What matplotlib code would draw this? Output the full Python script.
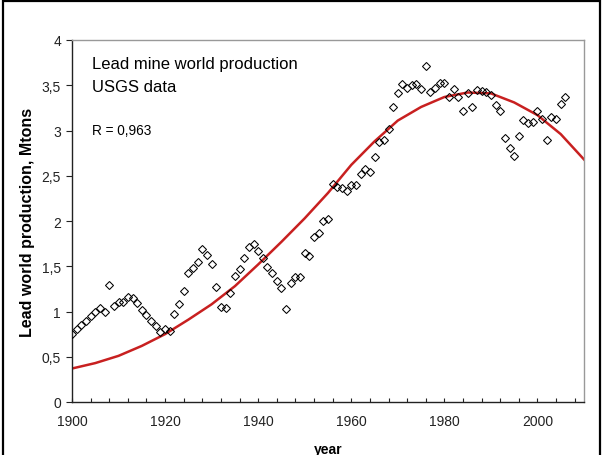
import matplotlib
matplotlib.use("Agg")
import matplotlib.pyplot as plt
from matplotlib.ticker import MultipleLocator, FuncFormatter
from matplotlib.patches import Rectangle

plt.rcParams['font.family'] = ['Liberation Sans', 'DejaVu Sans']

years = list(range(1900, 2007))
production = [
    0.75, 0.81, 0.85, 0.90, 0.95, 0.99, 1.04, 1.00, 1.29, 1.06,
    1.10, 1.11, 1.16, 1.15, 1.09, 1.02, 0.96, 0.90, 0.84, 0.77,
    0.81, 0.78, 0.97, 1.08, 1.23, 1.42, 1.48, 1.55, 1.69, 1.62,
    1.53, 1.27, 1.05, 1.04, 1.20, 1.39, 1.47, 1.59, 1.71, 1.75,
    1.67, 1.59, 1.49, 1.42, 1.34, 1.26, 1.03, 1.32, 1.38, 1.38,
    1.65, 1.61, 1.82, 1.87, 2.00, 2.02, 2.41, 2.38, 2.36, 2.33,
    2.40, 2.40, 2.52, 2.57, 2.54, 2.71, 2.87, 2.89, 3.02, 3.26,
    3.41, 3.51, 3.47, 3.50, 3.51, 3.46, 3.71, 3.43, 3.47, 3.52,
    3.53, 3.37, 3.46, 3.37, 3.22, 3.41, 3.26, 3.45, 3.44, 3.42,
    3.39, 3.28, 3.22, 2.92, 2.81, 2.72, 2.94, 3.12, 3.08, 3.09,
    3.22, 3.13, 2.89, 3.15, 3.13, 3.29, 3.37,
]

fit_years = [1900, 1905, 1910, 1915, 1920, 1925, 1930, 1935, 1940, 1945,
             1950, 1955, 1960, 1965, 1970, 1975, 1980, 1985, 1990, 1995,
             2000, 2005, 2010]
fit_values = [0.37, 0.43, 0.51, 0.62, 0.75, 0.91, 1.08, 1.28, 1.52, 1.77,
              2.03, 2.31, 2.62, 2.88, 3.11, 3.26, 3.37, 3.42, 3.41, 3.31,
              3.17, 2.96, 2.68]

title_lines = ["Lead mine world production", "USGS data"]
r_text = "R = 0,963"
x_label = "year"
y_label = "Lead world production, Mtons"

W, H = 603, 456
fig = plt.figure(figsize=(W / 100, H / 100), dpi=100)
ax = fig.add_axes([72 / W, 1 - 403 / H, (584 - 72) / W, (403 - 41) / H])

ax.plot(fit_years, fit_values, color='#c82020', lw=1.8, zorder=2)
ax.plot(years, production, linestyle='none', marker='D', ms=3.8,
        mfc='none', mec='black', mew=0.75, zorder=3)

ax.set_xlim(1900, 2010)
ax.set_ylim(0, 4)
ax.xaxis.set_major_locator(MultipleLocator(20))
ax.xaxis.set_minor_locator(MultipleLocator(4))
ax.yaxis.set_major_locator(MultipleLocator(0.5))

def yfmt(v, pos):
    return ('%g' % v).replace('.', ',')

ax.yaxis.set_major_formatter(FuncFormatter(yfmt))
ax.tick_params(axis='x', which='both', direction='in', length=3, width=0.8,
               labelsize=10, pad=9, colors='#222222')
ax.tick_params(axis='y', which='major', direction='out', length=4, width=0.8,
               labelsize=10, pad=4, colors='#222222')

for side in ['left', 'bottom']:
    ax.spines[side].set_color('#222222')
    ax.spines[side].set_linewidth(1.0)
for side in ['top', 'right']:
    ax.spines[side].set_color('#999999')
    ax.spines[side].set_linewidth(1.0)

ax.set_xlabel(x_label, fontsize=10, fontweight='bold', labelpad=10)
ax.set_ylabel(y_label, fontsize=11.5, fontweight='bold', labelpad=5)

ax.text(92 / W, 1 - 69 / H, title_lines[0], transform=fig.transFigure,
        fontsize=12, va='baseline', ha='left')
ax.text(92 / W, 1 - 92 / H, title_lines[1], transform=fig.transFigure,
        fontsize=12, va='baseline', ha='left')
ax.text(92 / W, 1 - 135 / H, r_text, transform=fig.transFigure,
        fontsize=9.8, va='baseline', ha='left')

fig.patches.append(Rectangle((3 / W, -0.1), (W - 6) / W, 1.1 - 2 / H,
                             transform=fig.transFigure, fill=False,
                             edgecolor='black', lw=1.6))

fig.savefig('out.png', dpi=100)
